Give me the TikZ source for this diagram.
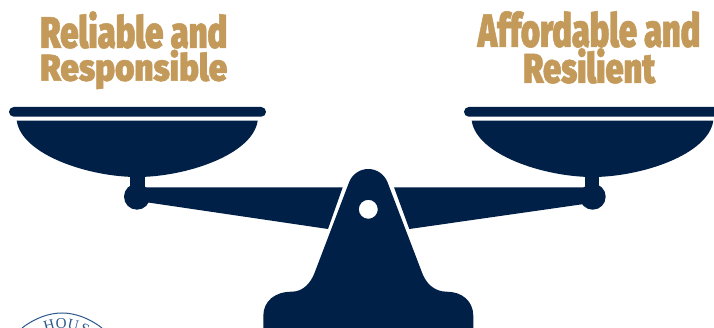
\documentclass[tikz,border=0pt]{standalone}
\usepackage{fontspec}
\setmainfont{Liberation Serif}
\newfontfamily\headfont[FakeBold=1.2]{Fira Sans Black}
\definecolor{navy}{HTML}{012047}
\definecolor{gold}{HTML}{C49A5A}
\definecolor{seal}{HTML}{2A5A8C}
\tikzset{
  headtext/.style={text=gold,inner sep=0pt,anchor=north west},
  part/.style={fill=navy,draw=none},
  sealletter/.style={text=seal,inner sep=0pt,font=\fontsize{15}{15}\selectfont}
}
\newcommand{\head}[3]{\resizebox*{#1pt}{#2pt}{\headfont #3}}
\newcommand{\panshape}[4]{%
  % #1 rim left, #2 rim right, #3 bowl left, #4 bowl right
  \fill[part,rounded corners=4.8pt] (#1,107) rectangle (#2,116.7);
  \fill[part] (#3,120.7) -- (#4,120.7)
    .. controls ({#4-5},155) and ({(#3+#4)/2+48},177) .. ({(#3+#4)/2},177)
    .. controls ({(#3+#4)/2-48},177) and ({#3+5},155) .. (#3,120.7) -- cycle;
}
\begin{document}
\begin{tikzpicture}[x=1pt,y=-1pt]
\useasboundingbox (0,0) rectangle (714,328);
\clip (0,0) rectangle (714,328);
\fill[white] (0,0) rectangle (714,328);
% titles
\node[headtext] (t1) at (40,11) {\head{187}{37.5}{Reliable and}};
\node[headtext] (t2) at (40,49.5) {\head{187}{39.5}{Responsible}};
\node[headtext] (t3) at (477.5,11) {\head{222.5}{36.5}{Affordable and}};
\node[headtext] (t4) at (523,48) {\head{132}{35.5}{Resilient}};
% pans
\panshape{9}{266}{16.7}{257.7}
\panshape{464}{730}{471.7}{713.3}
% stems and balls
\fill[part] (129.5,170) rectangle (145,190);
\fill[part] (584.7,170) rectangle (599.3,190);
\fill[part] (137,196.7) circle (13);
\fill[part] (592.7,196.7) circle (13);
% beam
\fill[part] (140,187.3) -- (342.7,187.3) -- (328,229) -- (140,201.3) -- cycle;
\fill[part] (596,187.3) -- (394,187.3) -- (409.3,229) -- (596,202.3) -- cycle;
% pivot
\fill[part,even odd rule] (263.3,328) -- (263.3,316)
  .. controls (263.3,301) and (275,291.7) .. (291.7,291.7)
  .. controls (303,291.7) and (311,283) .. (315,271.7)
  -- (349.3,181.7)
  .. controls (352.5,174) and (360,169) .. (368.3,169)
  .. controls (376.6,169) and (384,174) .. (387.3,181.7)
  -- (421.7,271.7)
  .. controls (425.6,283) and (434,291.7) .. (446.7,291.7)
  .. controls (462,291.7) and (473.3,301) .. (473.3,316)
  -- (473.3,328) -- cycle
  (368.3,209.3) circle (9.5);
% seal
\draw[seal,line width=1pt] (22,328) .. controls (35,318) and (49,313) .. (62,313)
  .. controls (75,313) and (89,318) .. (102,328);
\foreach \ang/\ch/\nm in {105/H/a,91/O/b,77/U/c,63/S/d,49/E/e}
  \node[sealletter,rotate=\ang-90] (seal\nm) at ([shift={(-\ang:50)}]62,374) {\ch};
\end{tikzpicture}
\end{document}
